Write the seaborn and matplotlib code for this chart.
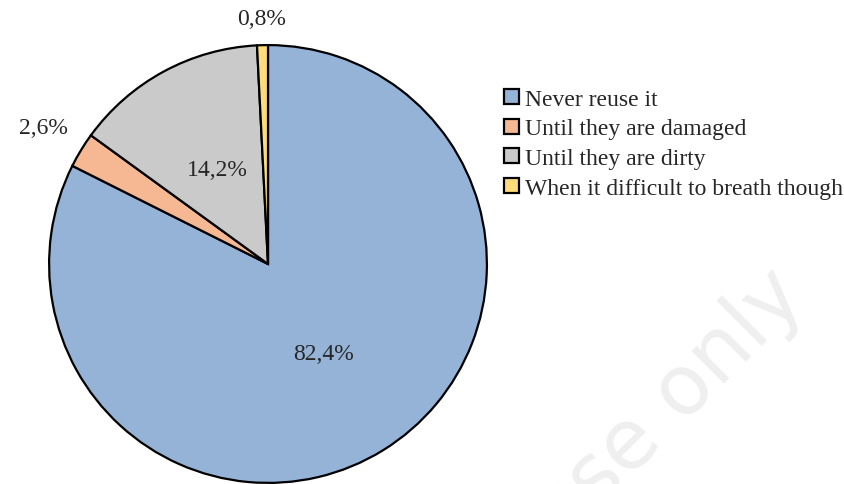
import numpy as np
import matplotlib
matplotlib.use("Agg")
import matplotlib.pyplot as plt
import seaborn as sns

# Data
labels = ["Never reuse it", "Until they are damaged", "Until they are dirty",
          "When it difficult to breath though"]
values = [82.4, 2.6, 14.2, 0.8]
colors = ["#95b3d7", "#f5b892", "#c9cac9", "#ffdc7a"]

sns.set_theme(style="white")
plt.rcParams["font.family"] = ["Liberation Serif", "DejaVu Serif"]

fig = plt.figure(figsize=(8.45, 4.85), dpi=100)
ax = fig.add_axes([48 / 845, 0.0, 440 / 845, 440 / 485])

wedges, _ = ax.pie(values, colors=colors, startangle=90, counterclock=False,
                   wedgeprops=dict(edgecolor="black", linewidth=1.6))
ax.set_xlim(-1.005, 1.005)
ax.set_ylim(-1.005, 1.005)
ax.set_aspect("equal")
ax.axis("off")

# Percentage labels: big slices inside, small slices outside
dist = [0.48, 1.2, 0.49, 1.12]
for w, v, d in zip(wedges, values, dist):
    mid = np.deg2rad((w.theta1 + w.theta2) / 2)
    ax.text(d * np.cos(mid), d * np.sin(mid), f"{v:.1f}%".replace(".", ","),
            ha="center", va="center", fontsize=17, clip_on=False)

leg = fig.legend(wedges, labels, loc="upper left", bbox_to_anchor=(504 / 845, 1 - 90 / 485),
                 frameon=False, fontsize=17, handlelength=0.62, handleheight=0.62,
                 handletextpad=0.25, labelspacing=0.36, borderaxespad=0, borderpad=0)
for h in leg.legend_handles:
    h.set_linewidth(1.6)

# faint watermark
fig.text(0.79, 0.16, "use only", fontsize=60, color="#efefef", rotation=45,
         ha="center", va="center", family="DejaVu Sans", zorder=0)

fig.savefig("out.png", dpi=100)
